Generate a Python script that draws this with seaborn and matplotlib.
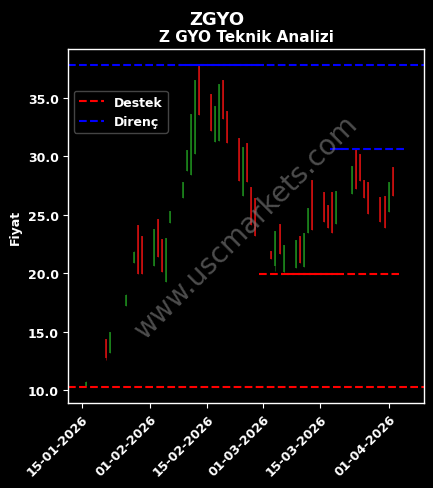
import matplotlib
matplotlib.use("Agg")
import matplotlib.pyplot as plt
import matplotlib.dates as mdates
import seaborn as sns
import pandas as pd
import numpy as np

# ---- data ----
dates = ["2026-01-16", "2026-01-21", "2026-01-22", "2026-01-26", "2026-01-28",
         "2026-01-29", "2026-01-30", "2026-02-02", "2026-02-03", "2026-02-04",
         "2026-02-05", "2026-02-06", "2026-02-09", "2026-02-10", "2026-02-11",
         "2026-02-12", "2026-02-13", "2026-02-16", "2026-02-17", "2026-02-18",
         "2026-02-19", "2026-02-20", "2026-02-23", "2026-02-24", "2026-02-25",
         "2026-02-26", "2026-02-27", "2026-03-03", "2026-03-04", "2026-03-05",
         "2026-03-06", "2026-03-09", "2026-03-10", "2026-03-11", "2026-03-12",
         "2026-03-13", "2026-03-16", "2026-03-17", "2026-03-18", "2026-03-19",
         "2026-03-23", "2026-03-24", "2026-03-25", "2026-03-26", "2026-03-27",
         "2026-03-30", "2026-03-31", "2026-04-01", "2026-04-02"]
opens = [10.3, 14.4, 13.2, 17.2, 20.9, 24.1, 23.2, 20.6, 24.6, 22.9,
         19.2, 24.3, 26.4, 28.7, 28.4, 30.2, 37.8, 35.3, 31.2, 31.3,
         36.5, 33.9, 31.6, 26.6, 31.1, 27.4, 26.4, 21.9, 20.6, 24.2,
         20.1, 20.4, 23.2, 20.5, 23.4, 28.0, 26.9, 25.8, 26.9, 24.2,
         26.8, 30.6, 30.2, 28.0, 27.8, 26.5, 26.6, 25.2, 29.1]
closes = [10.7, 12.7, 15.0, 18.1, 21.8, 19.9, 19.9, 23.8, 21.4, 20.1,
          23.0, 25.3, 27.8, 30.5, 33.6, 36.5, 33.5, 32.2, 34.3, 36.2,
          33.2, 31.1, 27.9, 30.8, 27.8, 24.1, 23.2, 21.2, 23.6, 21.6,
          22.4, 22.8, 20.9, 23.4, 25.6, 23.7, 24.4, 23.9, 23.4, 27.0,
          29.2, 27.2, 27.9, 26.4, 25.1, 24.4, 23.9, 27.8, 26.6]
highs = [10.8, 14.4, 15.0, 18.2, 21.9, 24.1, 23.2, 23.8, 24.6, 22.9,
         23.0, 25.3, 27.8, 30.5, 33.6, 36.5, 37.8, 35.3, 34.3, 36.2,
         36.5, 33.9, 31.6, 30.8, 31.1, 27.4, 26.4, 21.9, 23.6, 24.2,
         22.4, 22.8, 23.2, 23.4, 25.6, 28.0, 26.9, 25.8, 26.9, 27.0,
         29.2, 30.6, 30.2, 28.0, 27.8, 26.5, 26.6, 27.8, 29.1]
lows = [10.3, 12.6, 13.2, 17.2, 20.9, 19.9, 19.9, 20.6, 21.4, 20.1,
        19.2, 24.3, 26.4, 28.7, 28.4, 30.2, 33.5, 32.2, 31.2, 31.3,
        33.2, 31.1, 27.9, 26.6, 27.8, 24.1, 23.2, 21.2, 20.2, 21.6,
        19.9, 20.4, 20.9, 20.5, 23.4, 23.7, 24.4, 23.9, 23.4, 24.2,
        26.8, 27.2, 27.9, 26.4, 25.1, 24.4, 23.9, 25.2, 26.6]

support_level = 10.26
resistance_level = 37.83
short_support_level = 19.9
short_support_span = ["2026-02-27 20:00", "2026-04-03 12:00"]
short_support_overlay = ["2026-03-05 06:00", "2026-03-19 12:00"]
short_resist_level = 30.6
short_resist_span = ["2026-03-17 14:00", "2026-04-05 08:00"]
short_resist_overlay = ["2026-03-17 14:00", "2026-03-20 20:00"]
resist_overlay = ["2026-02-08 00:00", "2026-03-01 06:00"]

title_main = "ZGYO"
title_sub = "Z GYO Teknik Analizi"
y_label = "Fiyat"
legend_labels = ["Destek", "Direnç"]
y_ticks = [10.0, 15.0, 20.0, 25.0, 30.0, 35.0]
x_ticks = ["2026-01-15", "2026-02-01", "2026-02-15", "2026-03-01", "2026-03-15", "2026-04-01"]
watermark = "www.uscmarkets.com"

# ---- styling ----
sns.set_theme(style="dark", rc={
    "figure.facecolor": "black",
    "axes.facecolor": "black",
    "axes.edgecolor": "white",
    "axes.grid": False,
    "text.color": "white",
    "axes.labelcolor": "white",
    "xtick.color": "white",
    "ytick.color": "white",
    "xtick.bottom": True,
    "ytick.left": True,
})
plt.rcParams["font.family"] = ["DejaVu Sans"]

df = pd.DataFrame({"date": pd.to_datetime(dates), "open": opens, "close": closes,
                   "high": highs, "low": lows})
df["up"] = df["close"] >= df["open"]

fig = plt.figure(figsize=(4.33, 4.89), dpi=100)
ax = fig.add_axes([0.158, 0.174, 0.822, 0.723])

green = "#1e8f1e"
red = "#e01010"
colors = np.where(df["up"], green, red)

# wicks
ax.vlines(df["date"], df["low"], df["high"], colors=colors, linewidth=0.6, alpha=0.6)
# bodies
ax.vlines(df["date"], df[["open", "close"]].min(axis=1), df[["open", "close"]].max(axis=1),
          colors=colors, linewidth=1.1)

# long level lines
ax.axhline(support_level, color="red", linestyle="--", linewidth=1.5, label=legend_labels[0])
ax.axhline(resistance_level, color="blue", linestyle="--", linewidth=1.5, label=legend_labels[1])

# short level lines via seaborn
def seg(span, level):
    return pd.DataFrame({"date": pd.to_datetime(span), "level": [level, level]})

sns.lineplot(data=seg(resist_overlay, resistance_level), x="date", y="level", ax=ax,
             color="blue", linewidth=1.5, linestyle=(2.5, (3.7, 1.6)), legend=False)
sns.lineplot(data=seg(short_support_span, short_support_level), x="date", y="level", ax=ax,
             color="red", linewidth=1.5, linestyle="--", legend=False)
sns.lineplot(data=seg(short_support_overlay, short_support_level), x="date", y="level", ax=ax,
             color="red", linewidth=1.5, linestyle=(2.5, (3.7, 1.6)), legend=False)
sns.lineplot(data=seg(short_resist_span, short_resist_level), x="date", y="level", ax=ax,
             color="blue", linewidth=1.5, linestyle="--", legend=False)
sns.lineplot(data=seg(short_resist_overlay, short_resist_level), x="date", y="level", ax=ax,
             color="blue", linewidth=1.5, linestyle=(2.5, (3.7, 1.6)), legend=False)

ax.set_xlim(pd.Timestamp("2026-01-11 17:30"), pd.Timestamp("2026-04-09 20:40"))
ax.set_ylim(8.89, 39.15)

ax.set_yticks(y_ticks)
ax.set_yticklabels([f"{v:.1f}" for v in y_ticks], fontsize=9, fontweight="bold")
ax.set_xticks(pd.to_datetime(x_ticks))
ax.xaxis.set_major_formatter(mdates.DateFormatter("%d-%m-%Y"))
for lbl in ax.get_xticklabels():
    lbl.set_rotation(45)
    lbl.set_ha("right")
    lbl.set_rotation_mode("anchor")
    lbl.set_fontsize(9)
    lbl.set_fontweight("bold")
ax.tick_params(axis="both", length=3.5, width=0.8, colors="white")

ax.set_xlabel("")
ax.set_ylabel(y_label, fontsize=9, fontweight="bold", color="white")
for sp in ax.spines.values():
    sp.set_color("white")
    sp.set_linewidth(1.0)

ax.set_title(title_sub, fontsize=11, fontweight="bold", color="white", pad=6)
fig.suptitle(title_main, fontsize=13, fontweight="bold", color="white", y=0.978)

ax.text(0.5, 0.5, watermark, transform=ax.transAxes, rotation=45, fontsize=20,
        color="gray", alpha=0.6, ha="center", va="center")

handles, labels = ax.get_legend_handles_labels()
leg = ax.legend(handles[:2], labels[:2], loc="upper left", bbox_to_anchor=(0.015, 0.883),
                borderaxespad=0, facecolor="black", edgecolor="#444444", framealpha=1,
                prop={"weight": "bold", "size": 9})
for t in leg.get_texts():
    t.set_color("white")

fig.savefig("out.png", dpi=100, facecolor="black")
